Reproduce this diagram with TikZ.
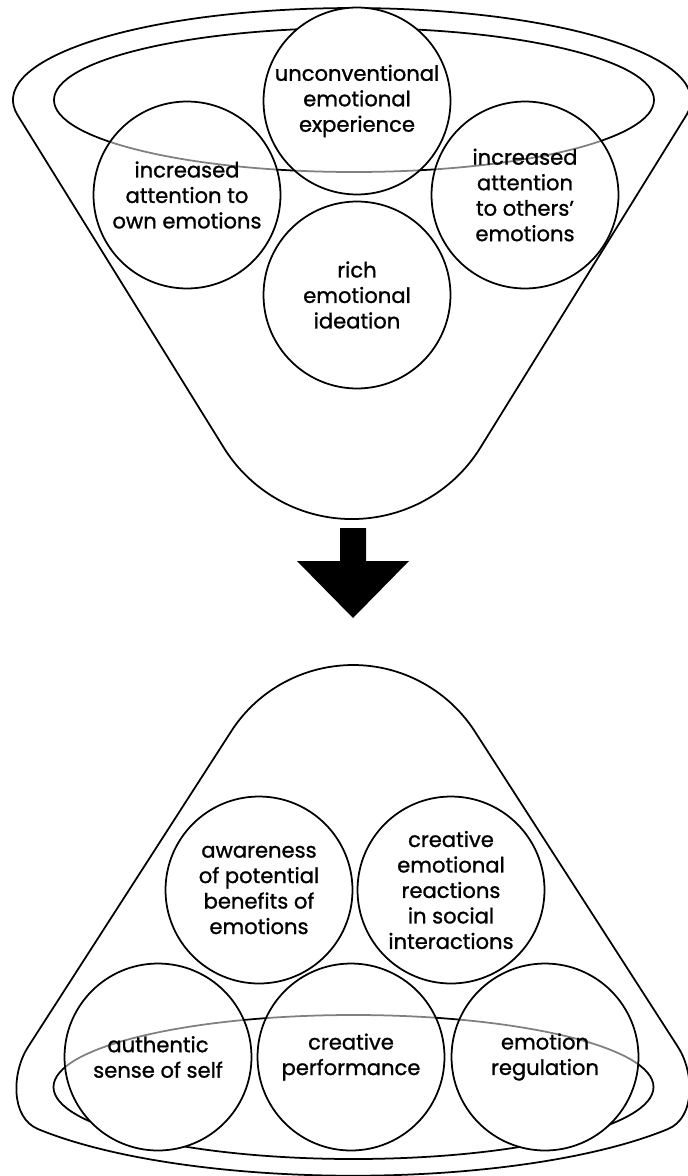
\documentclass[tikz,border=0pt]{standalone}
\usepackage{fontspec}
\setmainfont{Poppins}[FakeBold=1.1]

\begin{document}
\begin{tikzpicture}[x=0.02cm,y=-0.02cm,line width=1pt]
\tikzstyle{every node}+=[inner sep=0pt]
\tikzstyle{bubble}=[circle,draw=black,fill=white,fill opacity=0.5,text opacity=1,minimum size=3.74cm,align=center,font=\fontsize{12}{14.5}\selectfont]
\useasboundingbox (0,0) rectangle (688,1176);
\coordinate (t1) at (357,101);
\coordinate (t2) at (187,195);
\coordinate (t3) at (525,195);
\coordinate (t4) at (357,295);
\coordinate (b1) at (259,890);
\coordinate (b2) at (451,890);
\coordinate (b3) at (158,1057);
\coordinate (b4) at (351,1057);
\coordinate (b5) at (545,1057);
\draw [black] (17.7,115.3) arc [start angle=170.45, end angle=369.55, x radius=339, y radius=92] -- (480.4,447.6) arc [start angle=31.8, end angle=148.2, radius=151] -- cycle;
\draw [black] (54,100) arc [start angle=180, end angle=360, x radius=300, y radius=72];
\foreach \p in {t1,t2,t3,t4} \fill [white] (\p) circle [radius=93.5];
\draw [black] (654,100) arc [start angle=0, end angle=180, x radius=300, y radius=72];
\node [bubble] (exp) at (t1) {unconventional\\emotional\\experience};
\node [bubble] (ownatt) at (t2) {increased\\attention to\\own emotions};
\node [bubble] (othatt) at (t3) {increased\\attention\\to others'\\emotions};
\node [bubble] (ideat) at (t4) {rich\\emotional\\ideation};
\coordinate (arr) at (353,528);
\fill [black] (arr) ++(-13,0) -- ++(26,0) -- ++(0,33) -- ++(43,0) -- ++(-56,57) -- ++(-56,-57) -- ++(43,0) -- cycle;
\draw [black] (230,733.2) arc [start angle=212, end angle=328, radius=145] -- (678,1047) .. controls (694.2,1072.2) and (695.7,1117.5) .. (668,1129) arc [start angle=34, end angle=146, x radius=380, y radius=106] .. controls (10.3,1117.5) and (11.8,1072.2) .. (28,1047) -- cycle;
\draw [black] (653.5,1087) arc [start angle=0, end angle=180, x radius=300, y radius=72];
\foreach \p in {b1,b2,b3,b4,b5} \fill [white] (\p) circle [radius=93.5];
\draw [black] (53.5,1087) arc [start angle=180, end angle=360, x radius=300, y radius=72];
\node [bubble] (aware) at (b1) {awareness\\of potential\\benefits of\\emotions};
\node [bubble] (react) at (b2) {creative\\emotional\\reactions\\in social\\interactions};
\node [bubble] (self) at (b3) {authentic\\sense of self};
\node [bubble] (perf) at (b4) {creative\\performance};
\node [bubble] (regul) at (b5) {emotion\\regulation};
\end{tikzpicture}
\end{document}
